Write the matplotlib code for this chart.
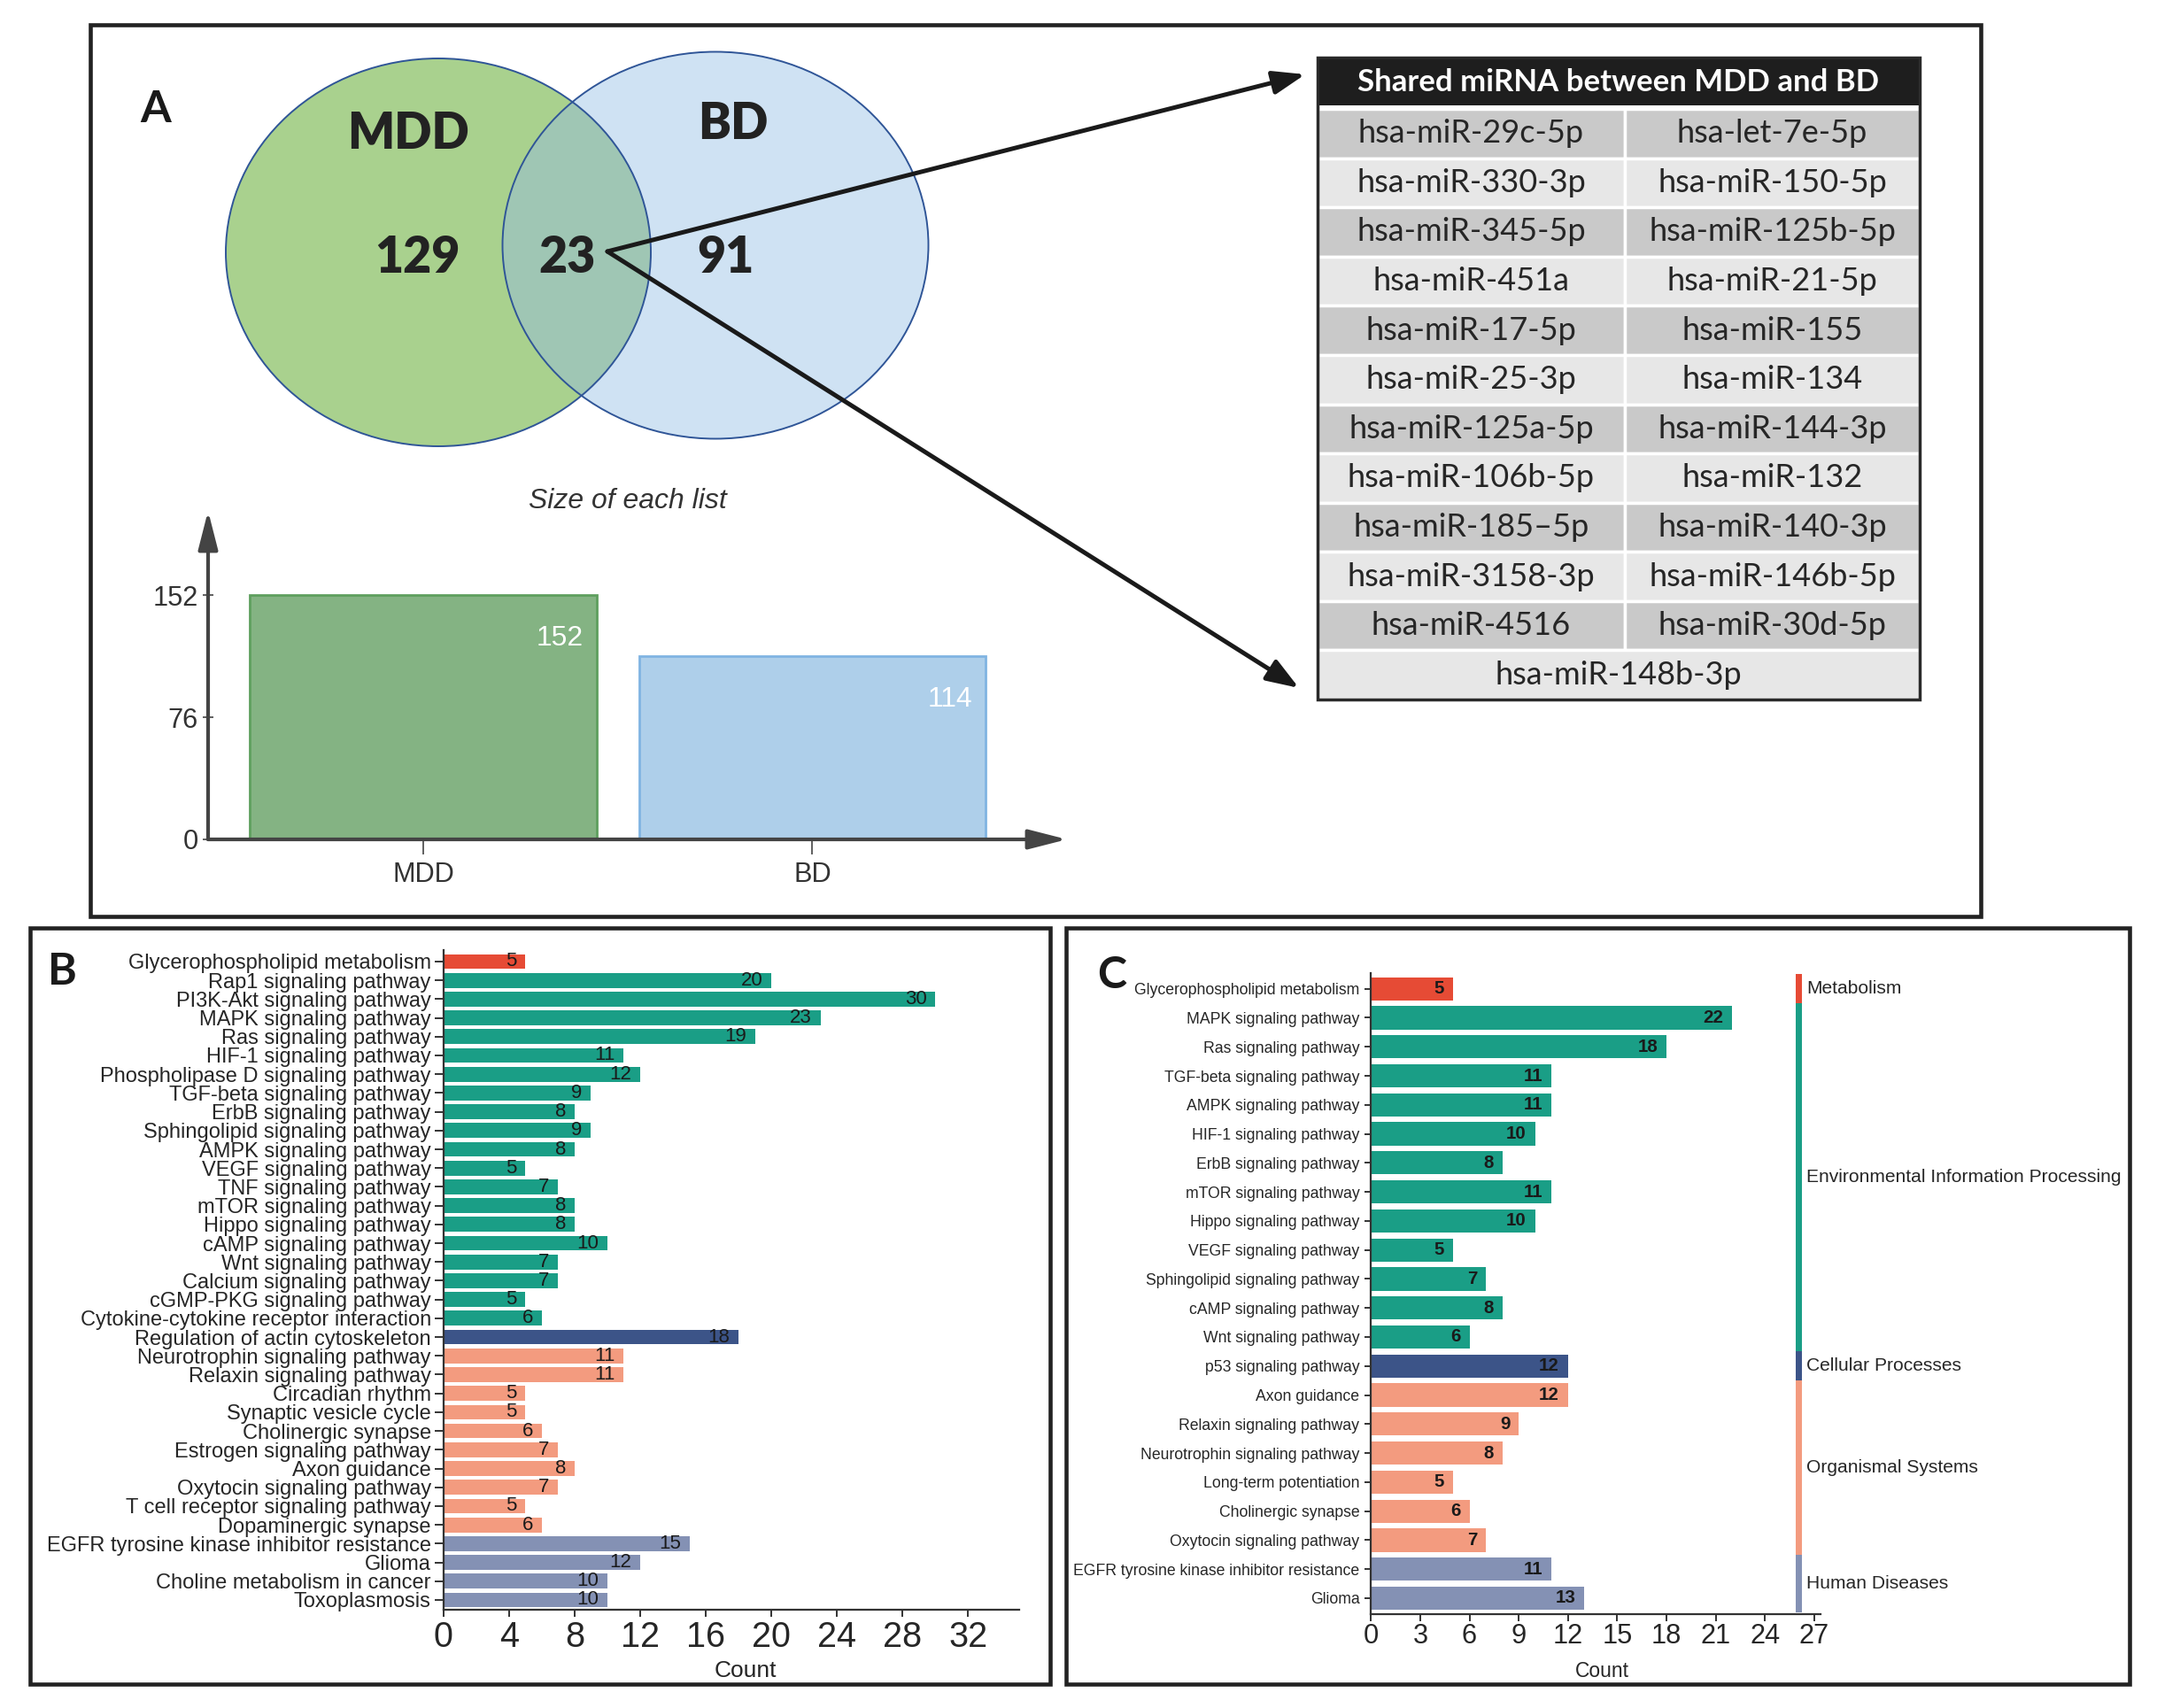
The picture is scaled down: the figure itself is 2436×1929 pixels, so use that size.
import matplotlib
matplotlib.use('Agg')
import matplotlib.pyplot as plt
from matplotlib.patches import Ellipse, Rectangle
from matplotlib import font_manager
import numpy as np

W, H = 2436, 1929

# ---------------- data ----------------
venn_names = ['MDD', 'BD']
venn_counts = [129, 23, 91]          # MDD only, shared, BD only
list_names = ['MDD', 'BD']
list_sizes = [152, 114]
list_ticks = [0, 76, 152]

table_title = 'Shared miRNA between MDD and BD'
shared_left = ['hsa-miR-29c-5p', 'hsa-miR-330-3p', 'hsa-miR-345-5p', 'hsa-miR-451a',
               'hsa-miR-17-5p', 'hsa-miR-25-3p', 'hsa-miR-125a-5p', 'hsa-miR-106b-5p',
               'hsa-miR-185\u20135p', 'hsa-miR-3158-3p', 'hsa-miR-4516']
shared_right = ['hsa-let-7e-5p', 'hsa-miR-150-5p', 'hsa-miR-125b-5p', 'hsa-miR-21-5p',
                'hsa-miR-155', 'hsa-miR-134', 'hsa-miR-144-3p', 'hsa-miR-132',
                'hsa-miR-140-3p', 'hsa-miR-146b-5p', 'hsa-miR-30d-5p']
shared_last = 'hsa-miR-148b-3p'

class_names = ['Metabolism', 'Environmental Information Processing', 'Cellular Processes',
               'Organismal Systems', 'Human Diseases']
class_colors = ['#e64b35', '#1a9e86', '#3c5488', '#f39b7f', '#8491b4']

b_terms = ['Glycerophospholipid metabolism', 'Rap1 signaling pathway', 'PI3K-Akt signaling pathway',
           'MAPK signaling pathway', 'Ras signaling pathway', 'HIF-1 signaling pathway',
           'Phospholipase D signaling pathway', 'TGF-beta signaling pathway', 'ErbB signaling pathway',
           'Sphingolipid signaling pathway', 'AMPK signaling pathway', 'VEGF signaling pathway',
           'TNF signaling pathway', 'mTOR signaling pathway', 'Hippo signaling pathway',
           'cAMP signaling pathway', 'Wnt signaling pathway', 'Calcium signaling pathway',
           'cGMP-PKG signaling pathway', 'Cytokine-cytokine receptor interaction',
           'Regulation of actin cytoskeleton', 'Neurotrophin signaling pathway',
           'Relaxin signaling pathway', 'Circadian rhythm', 'Synaptic vesicle cycle',
           'Cholinergic synapse', 'Estrogen signaling pathway', 'Axon guidance',
           'Oxytocin signaling pathway', 'T cell receptor signaling pathway', 'Dopaminergic synapse',
           'EGFR tyrosine kinase inhibitor resistance', 'Glioma', 'Choline metabolism in cancer',
           'Toxoplasmosis']
b_counts = [5, 20, 30, 23, 19, 11, 12, 9, 8, 9, 8, 5, 7, 8, 8, 10, 7, 7, 5, 6,
            18, 11, 11, 5, 5, 6, 7, 8, 7, 5, 6, 15, 12, 10, 10]
b_group_sizes = [1, 19, 1, 10, 4]

c_terms = ['Glycerophospholipid metabolism', 'MAPK signaling pathway', 'Ras signaling pathway',
           'TGF-beta signaling pathway', 'AMPK signaling pathway', 'HIF-1 signaling pathway',
           'ErbB signaling pathway', 'mTOR signaling pathway', 'Hippo signaling pathway',
           'VEGF signaling pathway', 'Sphingolipid signaling pathway', 'cAMP signaling pathway',
           'Wnt signaling pathway', 'p53 signaling pathway', 'Axon guidance',
           'Relaxin signaling pathway', 'Neurotrophin signaling pathway', 'Long-term potentiation',
           'Cholinergic synapse', 'Oxytocin signaling pathway',
           'EGFR tyrosine kinase inhibitor resistance', 'Glioma']
c_counts = [5, 22, 18, 11, 11, 10, 8, 11, 10, 5, 7, 8, 6, 12, 12, 9, 8, 5, 6, 7, 11, 13]
c_group_sizes = [1, 12, 1, 6, 2]

# ---------------- fonts ----------------
avail = {f.name for f in font_manager.fontManager.ttflist}
if 'Liberation Sans Narrow' in avail:
    NARROW, NS = 'Liberation Sans Narrow', 1.0
else:
    NARROW, NS = 'Liberation Sans', 0.82
SANS = 'Liberation Sans'
CAL = 'Lato'
TXT = '#262626'


def px_rect(l, t, r, b):
    return [l / W, 1 - b / H, (r - l) / W, (b - t) / H]


fig = plt.figure(figsize=(W / 100, H / 100), dpi=100)
fig.patch.set_facecolor('white')

# overlay in pixel coordinates for boxes, venn, table, arrows
ax0 = fig.add_axes([0, 0, 1, 1])
ax0.set_xlim(0, W)
ax0.set_ylim(H, 0)
ax0.axis('off')

for (l, t, r, b) in [(102, 28, 2237, 1035), (34, 1048, 1186, 1902), (1204, 1048, 2405, 1902)]:
    ax0.add_patch(Rectangle((l, t), r - l, b - t, fill=False, lw=3.3, ec='#222222'))

ax0.text(176, 123, 'A', fontsize=36, family=CAL, weight='bold', ha='center', va='center', color='#1a1a1a')
ax0.text(70, 1097, 'B', fontsize=36, family=CAL, weight='bold', ha='center', va='center', color='#1a1a1a')
ax0.text(1256, 1101, 'C', fontsize=36, family=CAL, weight='bold', ha='center', va='center', color='#1a1a1a')

# Venn
mdd_c, bd_c = (495, 285), (808, 277)
e_mdd = Ellipse(mdd_c, 480, 438, fc='#a9d18e', ec='none')
e_bd = Ellipse(bd_c, 481, 437, fc='#cfe2f3', ec='none')
ax0.add_patch(e_mdd)
ax0.add_patch(e_bd)
e_ov = Ellipse(bd_c, 481, 437, fc='#9fc6b4', ec='none')
ax0.add_patch(e_ov)
e_ov.set_clip_path(e_mdd)
ax0.add_patch(Ellipse(mdd_c, 480, 438, fill=False, ec='#2f5597', lw=1.4))
ax0.add_patch(Ellipse(bd_c, 481, 437, fill=False, ec='#2f5597', lw=1.4))

vkw = dict(fontsize=40, family=CAL, weight='heavy', ha='center', va='center', color='#222222')
ax0.text(461, 151, venn_names[0], **vkw)
ax0.text(828, 140, venn_names[1], **vkw)
for xx, n in zip([471, 641, 819], venn_counts):
    ax0.text(xx, 291, str(n), **vkw)

ax0.text(709, 566, 'Size of each list', fontsize=28 * NS, family=NARROW, style='italic',
         ha='center', va='center', color='#333333')

# arrows from the shared count to the table
akw = dict(arrowstyle='-|>,head_length=1.1,head_width=0.4', mutation_scale=20, lw=3.6,
           color='#1a1a1a', shrinkA=0, shrinkB=0)
ax0.annotate('', xy=(1474, 84), xytext=(686, 284), arrowprops=akw)
ax0.annotate('', xy=(1467, 777), xytext=(686, 284), arrowprops=akw)

# table of shared miRNAs
tl, tr, tt, tb = 1488, 2168, 65, 790
hb = 119
split = 1835
ax0.add_patch(Rectangle((tl, tt), tr - tl, hb - tt, fc='#1e1e1e', ec='none'))
ax0.text((tl + tr) / 2, (tt + hb) / 2 + 1, table_title, fontsize=25, family=CAL, weight='bold',
         color='white', ha='center', va='center')
row0 = 123
nrows = len(shared_left) + 1
pitch = (tb - row0) / nrows
for i in range(nrows):
    y0 = row0 + i * pitch
    fc = '#c9c9c9' if i % 2 == 0 else '#e7e7e7'
    yc = y0 + pitch / 2
    if i < len(shared_left):
        ax0.add_patch(Rectangle((tl, y0), split - tl, pitch, fc=fc, ec='white', lw=2.5))
        ax0.add_patch(Rectangle((split, y0), tr - split, pitch, fc=fc, ec='white', lw=2.5))
        ax0.text((tl + split) / 2, yc, shared_left[i], fontsize=26, family=CAL, color=TXT,
                 ha='center', va='center')
        ax0.text((split + tr) / 2, yc, shared_right[i], fontsize=26, family=CAL, color=TXT,
                 ha='center', va='center')
    else:
        ax0.add_patch(Rectangle((tl, y0), tr - tl, pitch, fc=fc, ec='white', lw=2.5))
        ax0.text((tl + tr) / 2, yc, shared_last, fontsize=26, family=CAL, color=TXT,
                 ha='center', va='center')
ax0.add_patch(Rectangle((tl, tt), tr - tl, tb - tt, fill=False, ec='#2a2a2a', lw=2.5))

# ---------------- list size bar chart ----------------
axS = fig.add_axes(px_rect(235, 577, 1205, 948))
axS.patch.set_alpha(0)
xs = np.arange(len(list_sizes))
axS.bar(xs, list_sizes, width=0.892, color=['#84b383', '#aecfea'],
        edgecolor=['#5e9f5e', '#80b4e2'], linewidth=2)
axS.set_xlim(-0.554, 1.655)
axS.set_ylim(0, 204.5)
for s in axS.spines.values():
    s.set_visible(False)
axkw = dict(arrowstyle='-|>,head_length=1.33,head_width=0.34', mutation_scale=20, lw=3,
            color='#444444', shrinkA=0, shrinkB=0)
axS.annotate('', xy=(0, 1), xytext=(0, 0), xycoords='axes fraction', arrowprops=axkw)
axS.annotate('', xy=(1, 0), xytext=(0, 0), xycoords='axes fraction', arrowprops=axkw)
axS.set_yticks(list_ticks)
axS.set_yticklabels([str(t) for t in list_ticks], fontsize=27 * NS, family=NARROW, color='#333333')
axS.set_xticks(xs)
axS.set_xticklabels(list_names, fontsize=27 * NS, family=NARROW, color='#333333')
axS.tick_params(axis='y', direction='inout', length=8, width=1.2, color='#444444', pad=4)
axS.tick_params(axis='x', direction='out', length=12, width=1.2, color='#444444', pad=6)
for x, v in zip(xs, list_sizes):
    axS.annotate(str(v), (x + 0.446, v), xytext=(-11, -35), textcoords='offset points',
                 ha='right', va='center', color='white', fontsize=28 * NS, family=NARROW)


# ---------------- KEGG bar charts ----------------
def pathway_bars(ax, terms, counts, group_sizes, ylim, xlim, xticks, bar_h,
                 lab_font, lab_size, tick_font, tick_size, val_font, val_size, val_weight,
                 ylen, ypad, xpad):
    cls = np.repeat(np.arange(len(group_sizes)), group_sizes)
    y = np.arange(len(terms))
    ax.patch.set_alpha(0)
    ax.barh(y, counts, height=bar_h, color=[class_colors[k] for k in cls])
    ax.set_ylim(*ylim)
    ax.set_xlim(*xlim)
    ax.set_yticks(y)
    ax.set_yticklabels(terms, fontsize=lab_size, family=lab_font, color=TXT)
    ax.set_xticks(xticks)
    ax.set_xticklabels([str(t) for t in xticks], fontsize=tick_size, family=tick_font, color=TXT)
    ax.tick_params(axis='y', length=ylen, width=1.4, color='#333333', pad=ypad)
    ax.tick_params(axis='x', length=6, width=1.4, color='#333333', pad=xpad)
    for side in ['top', 'right']:
        ax.spines[side].set_visible(False)
    for side in ['left', 'bottom']:
        ax.spines[side].set_linewidth(1.6)
        ax.spines[side].set_color('#333333')
    for yi, v in zip(y, counts):
        ax.annotate(str(v), (v, yi), xytext=(-7, 0), textcoords='offset points', ha='right',
                    va='center', fontsize=val_size, family=val_font, weight=val_weight,
                    color='#1a1a1a')
    return cls, y


axB = fig.add_axes(px_rect(500.7, 1073, 1150.8, 1818))
pathway_bars(axB, b_terms, b_counts, b_group_sizes, (34.52, -0.61), (0, 35.1), list(range(0, 33, 4)),
             0.79, SANS, 17, SANS, 28.5, SANS, 16, 'normal', 7, 3, 3)
axB.set_xlabel('Count', fontsize=19, family=SANS, color=TXT)
axB.xaxis.set_label_coords((842 - 500.7) / 650.1, -(1887 - 1818) / 745)
axB.xaxis.label.set_va('center')

axC = fig.add_axes(px_rect(1548.3, 1099, 2056.3, 1823))
c_cls, c_y = pathway_bars(axC, c_terms, c_counts, c_group_sizes, (21.55, -0.54), (0, 27.4),
                          list(range(0, 28, 3)), 0.8, NARROW, 15.5 * NS, NARROW, 27 * NS,
                          NARROW, 18 * NS, 'bold', 4.8, 4.5, 1.5)
axC.set_xlabel('Count', fontsize=20 * NS, family=NARROW, color=TXT)
axC.xaxis.set_label_coords((1809 - 1548.3) / 508, -(1887 - 1823) / 724)
axC.xaxis.label.set_va('center')

# class strip on the right of panel C
axC.barh(c_y, 0.38, left=26.06 - 0.19, height=1.0, color=[class_colors[k] for k in c_cls],
         clip_on=False)
for k, name in enumerate(class_names):
    rows = c_y[c_cls == k]
    axC.text(26.52, (rows.min() + rows.max()) / 2, name, fontsize=18.5 * NS, family=NARROW,
             color=TXT, ha='left', va='center', clip_on=False)

fig.savefig('out.png', dpi=100, facecolor='white')
